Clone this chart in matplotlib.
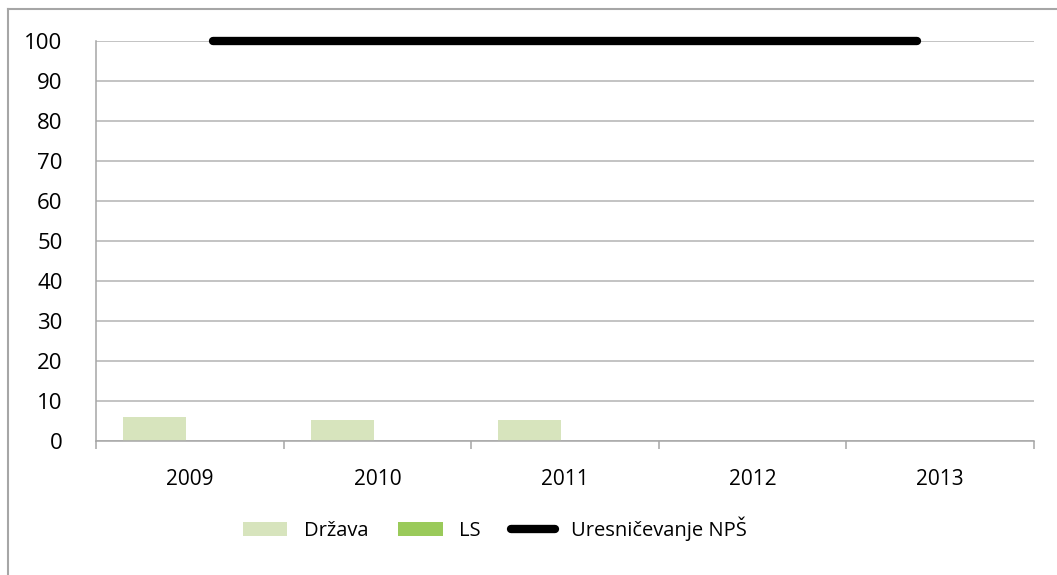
import matplotlib.pyplot as plt
import numpy as np
from matplotlib.lines import Line2D

plt.rcParams["font.family"] = ["Open Sans", "DejaVu Sans"]

years = ["2009", "2010", "2011", "2012", "2013"]
drzava = [6.0, 5.25, 5.25, 0, 0]
ls = [0, 0, 0, 0, 0]
nps_periods = ["2009", "2010", "2011", "2012"]
nps = [100, 100, 100, 100]

fig = plt.figure(figsize=(10.57, 5.75), dpi=100)
ax = fig.add_axes([96 / 1057, 1 - 441 / 575, 938 / 1057, 400 / 575])

x = np.arange(len(years))
w = 0.335
ax.bar(x - 0.1875, drzava, w, color="#D7E4BD", label="Država", zorder=2)
ax.bar(x + 0.1875, ls, w, color="#9ACA5A", label="LS", zorder=2)

ax.set_xlim(-0.5, len(years) - 0.5)
ax.set_ylim(0, 100)
ax.set_yticks(range(0, 101, 10))
ax.grid(axis="y", color="#B3B3B3", linewidth=1.1, zorder=0)
ax.set_axisbelow(True)

ax.set_xticks(x)
ax.set_xticklabels(years)
ax.set_xticks(np.arange(-0.5, len(years)), minor=True)
ax.tick_params(axis="x", which="major", length=0, pad=20, labelsize=15)
ax.tick_params(axis="x", which="minor", length=6, color="#A6A6A6", width=1.1)
ax.tick_params(axis="y", length=0, pad=24, labelsize=16)
for s in ["top", "right"]:
    ax.spines[s].set_visible(False)
for s in ["left", "bottom"]:
    ax.spines[s].set_color("#A6A6A6")
    ax.spines[s].set_linewidth(1.1)

# line series sits on its own category axis (4 periods)
ax2 = ax.twiny()
ax2.set_xlim(-0.5, len(nps_periods) - 0.5)
ax2.plot(np.arange(len(nps_periods)), nps, color="black", linewidth=6,
         solid_capstyle="round", label="Uresničevanje NPŠ", clip_on=False, zorder=3)
ax2.set_ylim(0, 100)
ax2.axis("off")

# outer frame
fig.add_artist(Line2D([8 / 1057, 8 / 1057], [1 - 9 / 575, 0], color="#A6A6A6", linewidth=1.5))
fig.add_artist(Line2D([8 / 1057, 1], [1 - 9 / 575, 1 - 9 / 575], color="#A6A6A6", linewidth=1.5))

h1, l1 = ax.get_legend_handles_labels()
h2, l2 = ax2.get_legend_handles_labels()
fig.legend(h1 + h2, l1 + l2, loc="center", bbox_to_anchor=(495 / 1057, 1 - 529 / 575),
           ncol=3, frameon=False, fontsize=14.5, handlelength=2.2, handleheight=0.7,
           handletextpad=0.8, columnspacing=1.5)

plt.savefig("out.png", dpi=100)
